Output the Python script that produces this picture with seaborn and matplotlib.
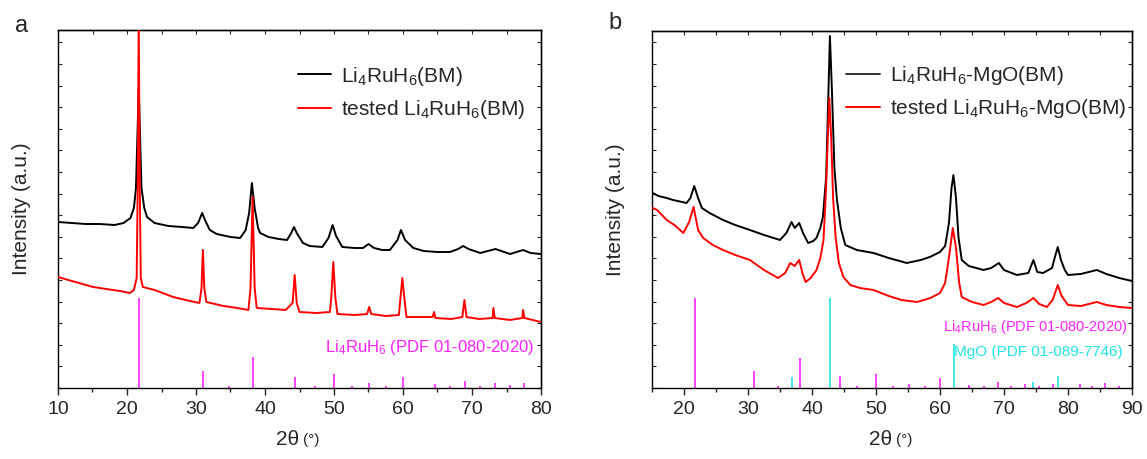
import numpy as np
import matplotlib
matplotlib.use("Agg")
import matplotlib.pyplot as plt
import seaborn as sns

# ---------------- data (intensity in arbitrary units) -------------
# panel a : Li4RuH6(BM)
a_black_x = [10.0, 12, 14, 16, 18.2, 19.5, 20.5, 21.0, 21.3, 21.5, 21.7, 21.9, 22.1, 22.5, 22.9, 24, 26, 28,
             29.6, 30.3, 30.9, 31.3, 32.0, 33, 35, 36.4, 37.2, 37.7, 38.1, 38.5, 39.0, 39.3, 40.5, 42, 43.2,
             43.8, 44.2, 44.6, 45.5, 46.5, 48.3, 49.2, 49.8, 50.3, 51.2, 53, 54.2, 55.0, 55.8, 57, 58.1, 59.2,
             59.7, 60.3, 61.5, 63, 65, 66.8, 68.0, 68.7, 69.5, 71.2, 73.4, 75.5, 77.4, 78.5, 80]
a_black_y = [166, 165, 164, 164, 163, 165, 170, 180, 200, 250, 300, 250, 200, 180, 171, 165, 162, 161,
             160, 165, 175, 168, 158, 154, 151, 150, 158, 175, 205, 180, 160, 155, 151, 149, 148,
             155, 161, 155, 145, 142, 141, 150, 163, 152, 141, 140, 140, 144, 140, 138, 138, 148,
             158, 148, 140, 137, 136, 136, 139, 142, 139, 135, 139, 134, 138, 135, 134]

a_red_x = [10, 12, 15.1, 17, 19, 20.4, 21.0, 21.4, 21.55, 21.7, 21.85, 22.0, 22.3, 24, 26.7, 28.5, 30.5, 30.8,
           31.0, 31.2, 31.5, 34, 36, 37.6, 37.9, 38.2, 38.5, 38.8, 41, 43, 44.0, 44.3, 44.6, 45, 47.5, 49.4,
           49.6, 49.9, 50.2, 50.5, 53, 54.8, 55.1, 55.4, 57.5, 59.4, 59.7, 59.9, 60.2, 60.5, 62.5, 64.3, 64.5,
           64.7, 67, 68.6, 68.9, 69.2, 71, 73.0, 73.1, 73.3, 75.5, 77.3, 77.4, 77.6, 80]
a_red_y = [111, 107, 101, 99, 97, 95, 98, 110, 200, 370, 200, 110, 101, 98, 91, 88, 85, 100,
           138, 100, 86, 82, 80, 78, 100, 191, 100, 80, 79, 78, 85, 113, 85, 76, 75, 76,
           90, 126, 90, 74, 73, 74, 81, 74, 72, 73, 95, 110, 90, 71, 71, 71, 76,
           70, 69, 71, 88, 71, 69, 70, 80, 70, 68, 70, 78, 70, 66]

a_ref_x = [21.7, 31.0, 34.8, 38.2, 44.35, 47.2, 50.0, 52.6, 55.1, 57.6, 60.0, 64.6, 66.8, 69.0, 71.2,
           73.3, 75.5, 77.5]
a_ref_h = [90, 17, 2, 31, 11, 2, 14, 2, 5, 2, 11, 4, 2, 7, 2, 5, 3, 5]

# panel b : Li4RuH6-MgO(BM)
b_black_x = [15.1, 16, 17.3, 18.3, 20.4, 21.0, 21.6, 22.2, 22.8, 24, 26.1, 28, 30.3, 32.5, 35.0, 36.0, 36.8,
             37.3, 38.0, 38.6, 39.4, 40.2, 40.7, 41.3, 41.7, 42.2, 42.5, 42.8, 43.1, 43.5, 43.9, 44.5, 45.2,
             47, 49.6, 52, 54.8, 57, 58.4, 60.0, 60.8, 61.4, 61.8, 62.1, 62.5, 62.9, 63.4, 64.5, 66.8, 68.0,
             69.2, 70.0, 72.0, 73.8, 74.6, 75.2, 76.1, 77.5, 78.0, 78.4, 78.9, 79.5, 80.0, 82, 84.5, 86, 88, 90]
b_black_y = [195, 192, 190, 188, 185, 190, 202, 190, 180, 175, 168, 163, 158, 153, 148, 155, 166,
             160, 165, 155, 145, 147, 150, 160, 171, 210, 280, 352, 300, 220, 188, 160, 143,
             138, 135, 130, 125, 128, 131, 136, 142, 165, 200, 213, 190, 150, 128, 122, 118, 120,
             125, 118, 113, 115, 128, 116, 115, 120, 132, 141, 128, 118, 113, 114, 118, 114, 110, 107]

b_red_x = [15.1, 15.8, 17.3, 18.5, 19.9, 20.8, 21.5, 22.2, 23, 24.5, 26.1, 28, 30.3, 32.5, 34.7, 35.8, 36.6,
           37.3, 38.0, 38.5, 39.0, 39.8, 40.7, 41.3, 41.8, 42.2, 42.5, 42.7, 43.0, 43.3, 43.7, 44.2, 44.9,
           46, 47.5, 49.6, 52, 54, 56.4, 58.5, 60.0, 60.8, 61.5, 62.0, 62.5, 63.0, 63.4, 65, 66.8, 68.0,
           69.1, 70, 72.0, 73.5, 74.6, 75.5, 76.7, 77.6, 78.4, 79.0, 80.0, 82, 84.5, 86, 88, 90]
b_red_y = [180, 178, 168, 163, 155, 166, 181, 158, 150, 143, 138, 133, 128, 118, 110, 115, 125,
           122, 128, 115, 106, 110, 118, 130, 148, 200, 255, 290, 250, 190, 150, 125, 111,
           103, 100, 98, 92, 88, 86, 90, 95, 105, 135, 160, 140, 105, 91, 86, 83, 86,
           90, 85, 81, 85, 90, 84, 81, 88, 103, 92, 83, 82, 86, 83, 81, 80]

b_ref_x = [21.7, 31.0, 34.7, 38.2, 44.4, 47.1, 50.0, 52.6, 55.1, 57.7, 60.0, 64.6, 66.8, 69.0, 71.1,
           73.3, 75.5, 77.6, 81.8, 83.8, 85.8, 87.9]
b_ref_h = [90, 17, 2, 30, 12, 2, 14, 2, 4, 2, 10, 3, 2, 6, 2, 4, 2, 4, 4, 2, 5, 2]

mgo_ref_x = [36.9, 42.8, 62.2, 74.5, 78.5]
mgo_ref_h = [11, 90, 44, 6, 12]

a_labels = ["Li$_\\mathregular{4}$RuH$_\\mathregular{6}$(BM)",
            "tested Li$_\\mathregular{4}$RuH$_\\mathregular{6}$(BM)"]
b_labels = ["Li$_\\mathregular{4}$RuH$_\\mathregular{6}$-MgO(BM)",
            "tested Li$_\\mathregular{4}$RuH$_\\mathregular{6}$-MgO(BM)"]
ref_label_li = "Li$_\\mathregular{4}$RuH$_\\mathregular{6}$ (PDF 01-080-2020)"
ref_label_mgo = "MgO (PDF 01-089-7746)"

# ---------------- style -------------------------------------------------------
sns.set_style("ticks")
plt.rcParams["font.family"] = ["Liberation Sans", "DejaVu Sans"]
plt.rcParams["mathtext.fontset"] = "custom"
plt.rcParams["mathtext.rm"] = "Liberation Sans"
plt.rcParams["mathtext.it"] = "Liberation Sans:italic"
plt.rcParams["axes.linewidth"] = 1.0

BLACK, RED, MAG, CYAN = "#000000", "#ff0000", "#ff22ff", "#22e5e5"

fig = plt.figure(figsize=(11.47, 4.59), dpi=100)
axA = fig.add_axes([58 / 1147, 71 / 459, 483 / 1147, 358 / 459])
axB = fig.add_axes([652 / 1147, 71 / 459, 480 / 1147, 357 / 459])


def frame(ax, xlo, xhi, majors, ytop):
    ax.set_xlim(xlo, xhi)
    ax.set_ylim(0, ytop)
    ax.set_xticks(majors)
    ax.set_xticks(np.arange(xlo, xhi + 0.1, 5), minor=True)
    ax.set_yticks(np.arange(0, ytop, 21.6))
    ax.set_yticklabels([])
    ax.tick_params(axis="x", which="major", direction="out", length=5, width=1, labelsize=14, pad=4)
    ax.tick_params(axis="x", which="minor", direction="out", length=3, width=1)
    ax.tick_params(axis="y", which="major", direction="in", length=3, width=0.8)
    top = ax.secondary_xaxis("top")
    top.set_xticks(majors)
    top.set_xticks(np.arange(xlo, xhi + 0.1, 5), minor=True)
    top.tick_params(which="both", direction="in", length=3, width=0.8, labeltop=False)
    right = ax.secondary_yaxis("right")
    right.set_yticks(np.arange(0, ytop, 21.6))
    right.tick_params(direction="in", length=3, width=0.8, labelright=False)
    for s in ax.spines.values():
        s.set_color("black")
    ax.set_ylabel("Intensity (a.u.)", fontsize=15, labelpad=16)
    ax.set_xlabel("")
    ax.text(0.5, -0.145, "2θ", transform=ax.transAxes, ha="right", va="center", fontsize=15)
    ax.text(0.508, -0.145, "(°)", transform=ax.transAxes, ha="left", va="center", fontsize=11)


# ---------------- panel a -----------------------------------------------------
axA.vlines(a_ref_x, 0, a_ref_h, color=MAG, lw=1.2, zorder=1)
sns.lineplot(x=a_black_x, y=a_black_y, ax=axA, color=BLACK, lw=1.4, estimator=None, sort=False,
             label=a_labels[0], zorder=3)
sns.lineplot(x=a_red_x, y=a_red_y, ax=axA, color=RED, lw=1.4, estimator=None, sort=False,
             label=a_labels[1], zorder=4)
frame(axA, 10, 80, np.arange(10, 81, 10), 358)
axA.text(0.985, 0.112, ref_label_li, transform=axA.transAxes, ha="right", va="center",
         color=MAG, fontsize=12)
legA = axA.legend(loc="upper left", bbox_to_anchor=(0.496, 0.903), frameon=False, fontsize=15,
                  handlelength=1.6, handletextpad=0.5, labelspacing=0.5, borderpad=0, borderaxespad=0)
axA.text(-0.09, 1.012, "a", transform=axA.transAxes, fontsize=17, ha="left", va="center")

# ---------------- panel b -----------------------------------------------------
axB.vlines(b_ref_x, 0, b_ref_h, color=MAG, lw=1.2, zorder=1)
axB.vlines(mgo_ref_x, 0, mgo_ref_h, color=CYAN, lw=1.2, zorder=1)
sns.lineplot(x=b_black_x, y=b_black_y, ax=axB, color=BLACK, lw=1.4, estimator=None, sort=False,
             label=b_labels[0], zorder=3)
sns.lineplot(x=b_red_x, y=b_red_y, ax=axB, color=RED, lw=1.4, estimator=None, sort=False,
             label=b_labels[1], zorder=4)
frame(axB, 15, 90, np.arange(20, 91, 10), 357)
axB.text(0.99, 0.17, ref_label_li, transform=axB.transAxes, ha="right", va="center",
         color=MAG, fontsize=10.5)
axB.text(0.98, 0.10, ref_label_mgo, transform=axB.transAxes, ha="right", va="center",
         color=CYAN, fontsize=11)
legB = axB.legend(loc="upper left", bbox_to_anchor=(0.405, 0.908), frameon=False, fontsize=15,
                  handlelength=1.6, handletextpad=0.5, labelspacing=0.5, borderpad=0, borderaxespad=0)
for h in legB.get_lines()[:1]:
    h.set_color("#333333")
axB.text(-0.09, 1.022, "b", transform=axB.transAxes, fontsize=17, ha="left", va="center")

fig.savefig("out.png", dpi=100)
